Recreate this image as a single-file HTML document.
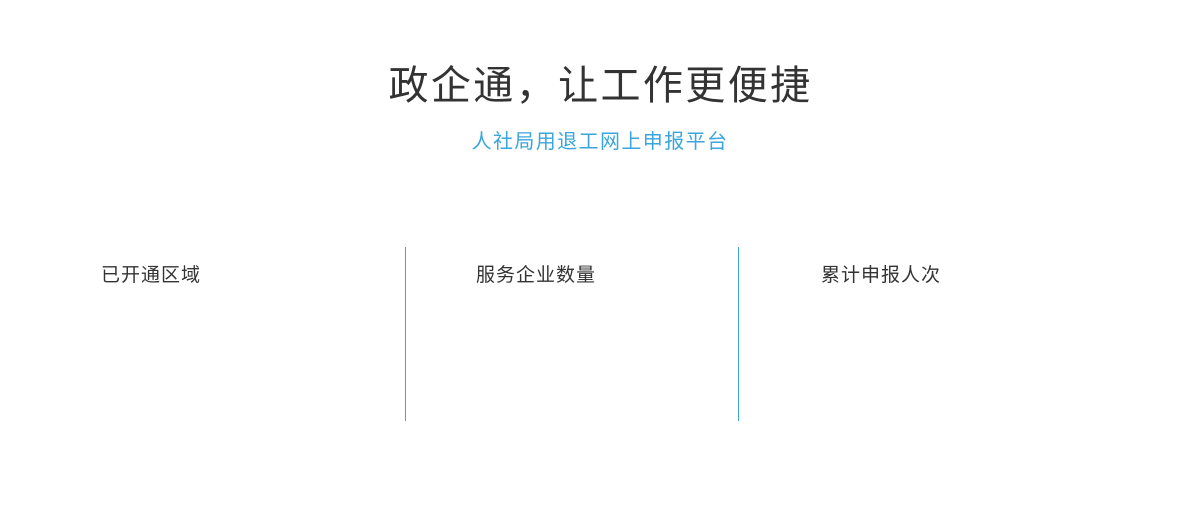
<!DOCTYPE html>
<html><head><meta charset="utf-8"><style>
body{margin:0;width:1200px;height:515px;background:#fff;position:relative;overflow:hidden;font-family:"Liberation Sans","Noto Sans CJK SC",sans-serif}
.t{position:absolute;left:0;width:1200px;text-align:center;top:62px;font-size:40px;line-height:48px;color:#333;letter-spacing:2.4px;text-indent:1px}
.s{position:absolute;left:0;width:1200px;text-align:center;top:129px;font-size:20px;line-height:26px;color:#3aa6dd;letter-spacing:1.4px}
.l{position:absolute;top:264px;font-size:19px;line-height:24px;color:#333;letter-spacing:1px}
.d{position:absolute;top:247px;width:1px;height:174px;background:#3aa6dd}
</style></head><body>
<div class="t">政企通，让工作更便捷</div>
<div class="s">人社局用退工网上申报平台</div>
<div class="l" style="left:101px">已开通区域</div>
<div class="l" style="left:476px">服务企业数量</div>
<div class="l" style="left:821px">累计申报人次</div>
<div class="d" style="left:405px"></div>
<div class="d" style="left:738px"></div>
</body></html>
